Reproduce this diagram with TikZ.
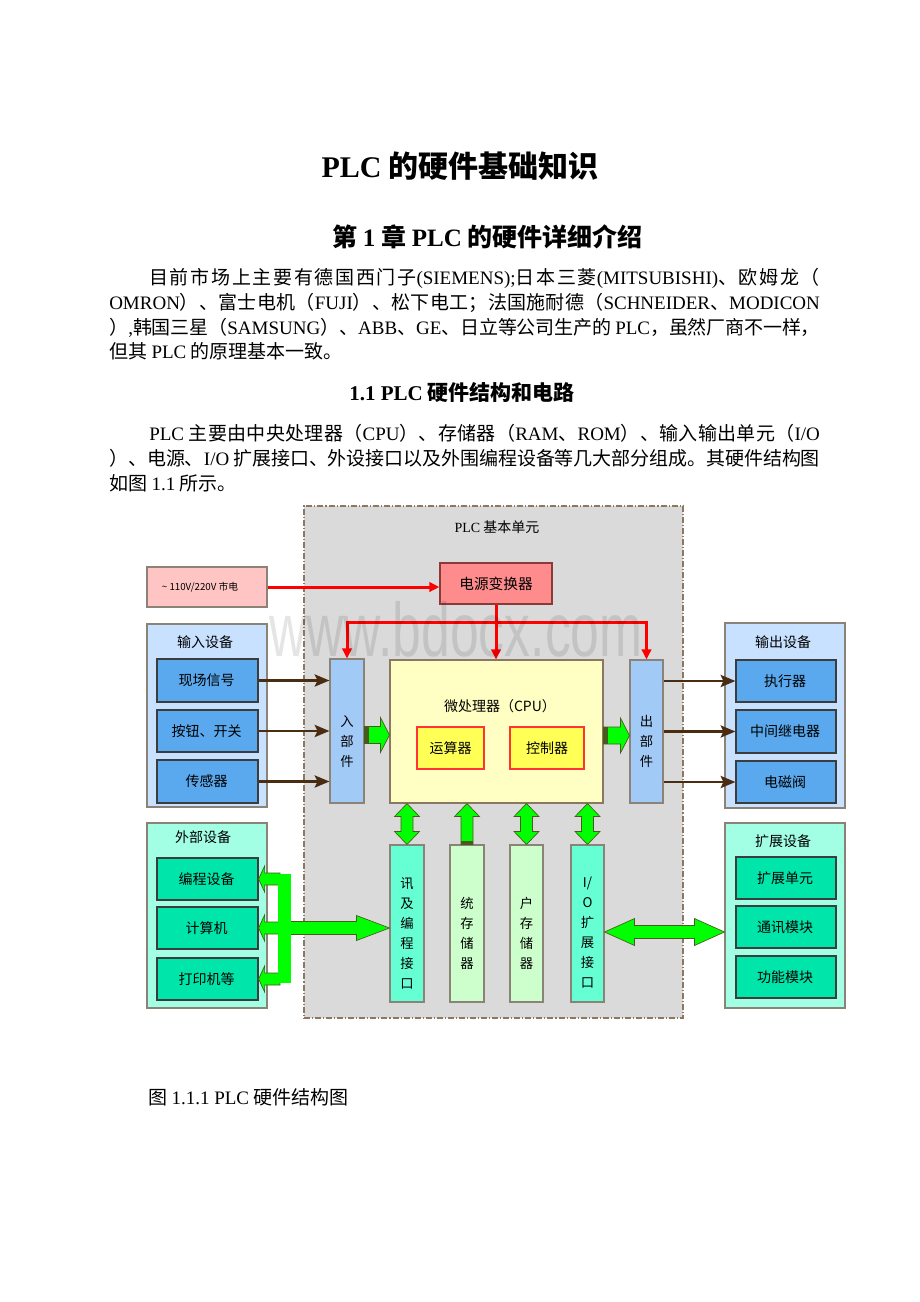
\documentclass[tikz,border=0pt]{standalone}
\usepackage{fontspec}
\setmainfont{Liberation Serif}
\newfontfamily\cjk{Noto Sans CJK SC}
\newfontfamily\wmfont[FakeStretch=0.68]{Liberation Sans}
\usetikzlibrary{arrows.meta,calc,fit,positioning}

% stretchable glue between CJK characters, so that lines can be justified
\XeTeXinterchartokenstate=1
\newcount\cjkc
\cjkc="3000
\loop \XeTeXcharclass\cjkc=7 \advance\cjkc by 1 \ifnum\cjkc<"3040 \repeat
\cjkc="4E00
\loop \XeTeXcharclass\cjkc=7 \advance\cjkc by 1 \ifnum\cjkc<"A000 \repeat
\cjkc="FF00
\loop \XeTeXcharclass\cjkc=7 \advance\cjkc by 1 \ifnum\cjkc<"FFF0 \repeat
\XeTeXinterchartoks 7 7 = {\hskip 0pt plus 1pt minus 0.5pt}
\XeTeXinterchartoks 0 7 = {\hskip 0pt plus 1pt minus 0.5pt}
\XeTeXinterchartoks 7 0 = {\hskip 0pt plus 1pt minus 0.5pt}

\newcommand\en[1]{{\rmfamily #1}}

\definecolor{plcfill}{HTML}{DADADA}
\definecolor{plcedge}{HTML}{8B7762}
\definecolor{boxedge}{HTML}{8B8378}
\definecolor{innedge}{HTML}{3C3C3C}
\definecolor{pwrfill}{HTML}{FFC4C4}
\definecolor{convfill}{HTML}{FF8C8C}
\definecolor{convedge}{HTML}{8B3A3A}
\definecolor{ingrpc}{HTML}{C8E1FF}
\definecolor{inbox}{HTML}{5AA9EE}
\definecolor{partfill}{HTML}{A2CAF6}
\definecolor{cpufill}{HTML}{FFFFC4}
\definecolor{unitfill}{HTML}{FFFF55}
\definecolor{extgrpc}{HTML}{A3FFE3}
\definecolor{extbox}{HTML}{00E6AA}
\definecolor{iffill}{HTML}{66FFD4}
\definecolor{memfill}{HTML}{CCFFCC}
\definecolor{gfill}{HTML}{00FF00}
\definecolor{gedge}{HTML}{4A5A1E}
\definecolor{wire}{HTML}{4A2C12}

% block arrows: tail/tip coordinates, half body, half head, head length
\newcommand\hright[5]{\filldraw[gblock] ($(#1)+(0,-#3)$) -- ($(#2)+(-#5,-#3)$) -- ($(#2)+(-#5,-#4)$) -- (#2) -- ($(#2)+(-#5,#4)$) -- ($(#2)+(-#5,#3)$) -- ($(#1)+(0,#3)$) -- cycle;}
\newcommand\hleft[5]{\filldraw[gblock] ($(#1)+(0,-#3)$) -- ($(#2)+(#5,-#3)$) -- ($(#2)+(#5,-#4)$) -- (#2) -- ($(#2)+(#5,#4)$) -- ($(#2)+(#5,#3)$) -- ($(#1)+(0,#3)$) -- cycle;}
\newcommand\hboth[5]{\filldraw[gblock] (#1) -- ($(#1)+(#5,-#4)$) -- ($(#1)+(#5,-#3)$) -- ($(#2)+(-#5,-#3)$) -- ($(#2)+(-#5,-#4)$) -- (#2) -- ($(#2)+(-#5,#4)$) -- ($(#2)+(-#5,#3)$) -- ($(#1)+(#5,#3)$) -- ($(#1)+(#5,#4)$) -- cycle;}
\newcommand\vboth[5]{\filldraw[gblock] (#1) -- ($(#1)+(#4,#5)$) -- ($(#1)+(#3,#5)$) -- ($(#2)+(#3,-#5)$) -- ($(#2)+(#4,-#5)$) -- (#2) -- ($(#2)+(-#4,-#5)$) -- ($(#2)+(-#3,-#5)$) -- ($(#1)+(-#3,#5)$) -- ($(#1)+(-#4,#5)$) -- cycle;}
\newcommand\vup[5]{\filldraw[gblock] (#1) -- ($(#1)+(#4,#5)$) -- ($(#1)+(#3,#5)$) -- ($(#2)+(#3,0)$) -- ($(#2)+(-#3,0)$) -- ($(#1)+(-#3,#5)$) -- ($(#1)+(-#4,#5)$) -- cycle;}

\begin{document}
\begin{tikzpicture}[
    x=0.75pt, y=-0.75pt,
    grp/.style={draw=boxedge, line width=0.8pt, inner sep=0pt, fill=#1},
    unit/.style={draw=innedge, line width=0.9pt, inner sep=0pt, fill=#1},
    txt/.style={font=\cjk\fontsize{10.5pt}{12pt}\selectfont, inner sep=0pt},
    vtxt/.style={font=\cjk\fontsize{10pt}{15pt}\selectfont, align=center, inner sep=0pt},
    pwr/.style={red, line width=2.25pt, -{Triangle[length=7.5pt,width=7pt]}},
    sig/.style={wire, line width=2pt, -{Stealth[length=11pt,width=9pt,inset=2pt]}},
    gblock/.style={fill=gfill, draw=gedge, line width=0.5pt},
    body/.style={font=\cjk\fontsize{14.25pt}{18pt}\selectfont, anchor=base west, inner sep=0pt}
    ]
    \useasboundingbox (0,0) rectangle (920,1302);
    \fill[white] (0,0) rectangle (920,1302);

    % headings and text
    \node[anchor=base, inner sep=0pt, font=\cjk\bfseries\fontsize{22.5pt}{26pt}\selectfont] (title) at (460,177) {\en{PLC} 的硬件基础知识};
    \node[anchor=base west, inner sep=0pt, font=\cjk\bfseries\fontsize{18.75pt}{22pt}\selectfont] (chap) at (332,246) {第 \en{1} 章 \en{PLC} 的硬件详细介绍};
    \node[body] (p1a) at (149,284) {\makebox[503pt][s]{目前市场上主要有德国西门子\en{(SIEMENS);}日本三菱\en{(MITSUBISHI)}、欧姆龙（}};
    \node[body] (p1b) at (109,309) {\makebox[533pt][s]{\en{OMRON}）、富士电机（\en{FUJI}）、松下电工；法国施耐德（\en{SCHNEIDER}、\en{MODICON}}};
    \node[body] (p1c) at (109,334) {\makebox[533pt][s]{）\en{,}韩国三星（\en{SAMSUNG}）、\en{ABB}、\en{GE}、日立等公司生产的 \en{PLC}，虽然厂商不一样，}};
    \node[body] (p1d) at (109,358) {但其 \en{PLC} 的原理基本一致。};
    \node[anchor=base, inner sep=0pt, font=\cjk\bfseries\fontsize{15.75pt}{19pt}\selectfont] (sect) at (462,400) {\en{1.1 PLC} 硬件结构和电路};
    \node[body] (p2a) at (149,440) {\makebox[503pt][s]{\en{PLC} 主要由中央处理器（\en{CPU}）、存储器（\en{RAM}、\en{ROM}）、输入输出单元（\en{I/O}}};
    \node[body] (p2b) at (109,465) {\makebox[533pt][s]{）、电源、\en{I/O} 扩展接口、外设接口以及外围编程设备等几大部分组成。其硬件结构图}};
    \node[body] (p2c) at (109,490) {如图 \en{1.1} 所示。};
    \node[body] (caption) at (148,1104) {图 \en{1.1.1 PLC} 硬件结构图};

    % PLC basic unit
    \node[fill=plcfill, draw=plcedge, line width=0.8pt, inner sep=0pt,
        dash pattern=on 4.5pt off 1.5pt on 0.8pt off 1.5pt,
        fit={(304,506) (683,1018)}] (plc) {};
    \node[txt] (plctitle) at (497,527) {\en{PLC} 基本单元};

    % power supply
    \node[grp=pwrfill, fit={(147,567) (267,607)}] (mains) {};
    \node[font=\cjk\fontsize{7.3pt}{9pt}\selectfont, inner sep=0pt] (mainstxt) at (200,587) {\textasciitilde{} 110V/220V 市电};
    \node[unit=convfill, draw=convedge, fit={(440,563) (552,604)}] (conv) {};
    \node[txt, font=\cjk\fontsize{11pt}{13pt}\selectfont] (conv-t) at (conv.center) {电源变换器};

    % device groups
    \node[grp=ingrpc, fit={(147,624) (267,807)}] (ingrp) {};
    \node[txt] (ingrp-t) at (205,642) {输入设备};
    \node[grp=ingrpc, fit={(725,623) (845,808)}] (outgrp) {};
    \node[txt] (outgrp-t) at (783,642) {输出设备};
    \node[grp=extgrpc, fit={(147,823) (267,1008)}] (extgrp) {};
    \node[txt] (extgrp-t) at (203,837) {外部设备};
    \node[grp=extgrpc, fit={(725,823) (845,1008)}] (expgrp) {};
    \node[txt] (expgrp-t) at (783,841) {扩展设备};

    \foreach \n/\t/\xa/\xb/\ya/\yb/\c in {
        ins1/现场信号/157/258/659/702/inbox, ins2/按钮、开关/157/258/710/752/inbox,
        ins3/传感器/157/258/760/803/inbox,
        outs1/执行器/736/836/660/702/inbox, outs2/中间继电器/736/836/710/753/inbox,
        outs3/电磁阀/736/836/761/803/inbox,
        ext1/编程设备/157/258/858/900/extbox, ext2/计算机/157/258/907/949/extbox,
        ext3/打印机等/157/258/958/1000/extbox,
        exp1/扩展单元/736/836/857/899/extbox, exp2/通讯模块/736/836/906/948/extbox,
        exp3/功能模块/736/836/956/998/extbox}
    {
        \node[unit=\c, fit={(\xa,\ya) (\xb,\yb)}] (\n) {};
        \node[txt] (\n-t) at ($(\n.center)+(-1,0)$) {\t};
    }

    % CPU and its parts
    \node[grp=cpufill, draw=plcedge, fit={(390,660) (603,803)}] (cpu) {};
    \node[txt] (cputitle) at (500,706) {微处理器（CPU）};
    \node[unit=unitfill, draw=red!80, fit={(417,727) (484,769)}] (alu) {};
    \node[txt] (alu-t) at (alu.center) {运算器};
    \node[unit=unitfill, draw=red!80, fit={(510,727) (584,769)}] (ctrl) {};
    \node[txt] (ctrl-t) at (ctrl.center) {控制器};

    % vertical units
    \foreach \n/\t/\xa/\xb/\ya/\yb/\c/\dy in {
        inpart/入\\部\\件/330/364/659/803/partfill/11,
        outpart/出\\部\\件/630/663/660/803/partfill/10,
        comif/讯\\及\\编\\程\\接\\口/390/424/845/1002/iffill/9.5,
        sysmem/统\\存\\储\\器/450/484/845/1002/memfill/9.5,
        usrmem/户\\存\\储\\器/510/543/845/1002/memfill/9.5,
        ioif/{I/\\O\\扩\\展\\接\\口}/571/604/845/1002/iffill/9.5}
    {
        \node[grp=\c, fit={(\xa,\ya) (\xb,\yb)}] (\n) {};
        \node[vtxt] (\n-t) at ($(\n.center)+(0,\dy)$) {\t};
    }

    % power wiring
    \draw[pwr] (mains.east |- mainstxt) -- (mainstxt -| conv.west);
    \coordinate (rj) at ($(conv.south)+(0,18)$);
    \draw[red, line width=2.25pt, {Triangle[length=7.5pt,width=7pt]}-{Triangle[length=7.5pt,width=7pt]}]
        (inpart.north) |- (outpart.north |- rj) -- (outpart.north);
    \draw[pwr] (conv.south) -- (conv.south |- cpu.north);

    % signal wiring
    \foreach \s in {1,2,3}
        \draw[sig] (ins\s.east) -- (ins\s.east -| inpart.west);
    \foreach \s in {1,2,3}
        \draw[sig] (outs\s.west -| outpart.east) -- (outs\s.west);

    % data paths
    \coordinate (g1a) at ($(inpart.east)+(0,4)$);
    \coordinate (g1b) at (g1a -| cpu.west);
    \hright{g1a}{g1b}{8.5}{17.5}{9}
    \fill[gedge] ($(g1a)+(0,-8.5)$) rectangle ($(g1a)+(4,8.5)$);
    \coordinate (g2a) at ($(cpu.east)+(0,4)$);
    \coordinate (g2b) at (g2a -| outpart.west);
    \hright{g2a}{g2b}{8.5}{17.5}{9}
    \fill[gedge] ($(g2a)+(0,-8.5)$) rectangle ($(g2a)+(4,8.5)$);

    \foreach \n in {comif, usrmem, ioif}
    {
        \coordinate (\n-top) at (\n.north |- cpu.south);
        \vboth{\n-top}{\n.north}{6}{12.5}{13}
    }
    \coordinate (sysmem-top) at (sysmem.north |- cpu.south);
    \vup{sysmem-top}{sysmem.north}{6}{12.5}{13}
    \fill[gedge] ($(sysmem.north)+(-6,-3)$) rectangle ($(sysmem.north)+(6,0)$);

    % peripheral bus
    \coordinate (busl) at (278,874);
    \coordinate (busr) at (291,983);
    \foreach \s in {1,2,3}
    {
        \coordinate (bus\s) at ($(busl |- ext\s.east)+(2,0)$);
        \hleft{bus\s}{ext\s.east}{6}{13}{6}
    }
    \coordinate (busout) at ($(busr |- ext2.east)+(-2,0)$);
    \coordinate (busin) at (busout -| comif.west);
    \hright{busout}{busin}{6.5}{12.5}{33}
    \node[fill=gfill, inner sep=0pt, fit=(busl) (busr)] (bus) {};

    \coordinate (ioa) at ($(ioif.east)+(0,8.5)$);
    \coordinate (iob) at (ioa -| expgrp.west);
    \hboth{ioa}{iob}{6.5}{13.5}{30}

    % watermark
    \node[font=\wmfont\fontsize{57pt}{60pt}\selectfont, text=black, opacity=0.1, anchor=base, inner sep=0pt] (wmark) at (456,656) {www.bdocx.com};
\end{tikzpicture}
\end{document}
